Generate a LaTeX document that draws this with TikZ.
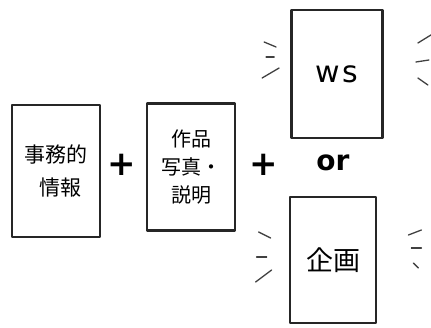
\documentclass[tikz,border=0pt]{standalone}
\usepackage{fontspec}
\setmainfont{DejaVu Sans}
\newfontfamily\jpfont{Noto Sans CJK JP}
\usetikzlibrary{positioning, calc}

\begin{document}
\begin{tikzpicture}[x=1pt, y=-1pt,
  sheet/.style={draw=black!85, line width=2.8pt, line join=round, align=center,
    font=\jpfont\fontsize{21}{33}\selectfont, inner sep=0pt},
  plus/.style={font=\bfseries\fontsize{34}{34}\selectfont, inner sep=0pt},
  glow/.style={draw=black!75, line width=1.3pt, line cap=round}]

\useasboundingbox (0,0) rectangle (431,327);

% sheets
\node[sheet, minimum width=88pt, minimum height=132pt] (info) at (56,171) {事務的\\\ \ 情報};
\node[sheet, minimum width=88pt, minimum height=127pt, font=\jpfont\fontsize{20}{28}\selectfont] (works) at (191,167) {作品\\写真・\\説明};
\node[sheet, minimum width=91pt, minimum height=128pt, font=\fontsize{30}{30}\selectfont] (ws) at (337,74) {w\kern3pt s};
\node[sheet, minimum width=86pt, minimum height=126pt, font=\jpfont\fontsize{27}{27}\selectfont] (plan) at (333,260) {企画};

% plus signs and or
\node[plus] (plusA) at (122,165) {+};
\node[plus] (plusB) at (264,165) {+};
\node[font=\bfseries\fontsize{28}{28}\selectfont, inner sep=0pt] (or) at (333,163) {or};

% little lines round ws
\draw[glow] ($(ws.west)+(-26,-32)$) -- ($(ws.west)+(-14,-27)$);
\draw[glow] ($(ws.west)+(-24,-17)$) -- ($(ws.west)+(-16,-17)$);
\draw[glow] ($(ws.west)+(-28,4)$) -- ($(ws.west)+(-11,-6)$);
\draw[glow] ($(ws.east)+(47,-39)$) -- ($(ws.east)+(34,-31)$);
\draw[glow] ($(ws.east)+(32,-12)$) -- ($(ws.east)+(45,-14)$);
\draw[glow] ($(ws.east)+(34,4)$) -- ($(ws.east)+(44,11)$);

% little lines round plan
\draw[glow] ($(plan.west)+(-30,-28)$) -- ($(plan.west)+(-18,-22)$);
\draw[glow] ($(plan.west)+(-32,-3)$) -- ($(plan.west)+(-22,-3)$);
\draw[glow] ($(plan.west)+(-33,22)$) -- ($(plan.west)+(-17,10)$);
\draw[glow] ($(plan.east)+(31,-25)$) -- ($(plan.east)+(44,-30)$);
\draw[glow] ($(plan.east)+(34,-12)$) -- ($(plan.east)+(44,-12)$);
\draw[glow] ($(plan.east)+(36,3)$) -- ($(plan.east)+(41,8)$);

\end{tikzpicture}
\end{document}
